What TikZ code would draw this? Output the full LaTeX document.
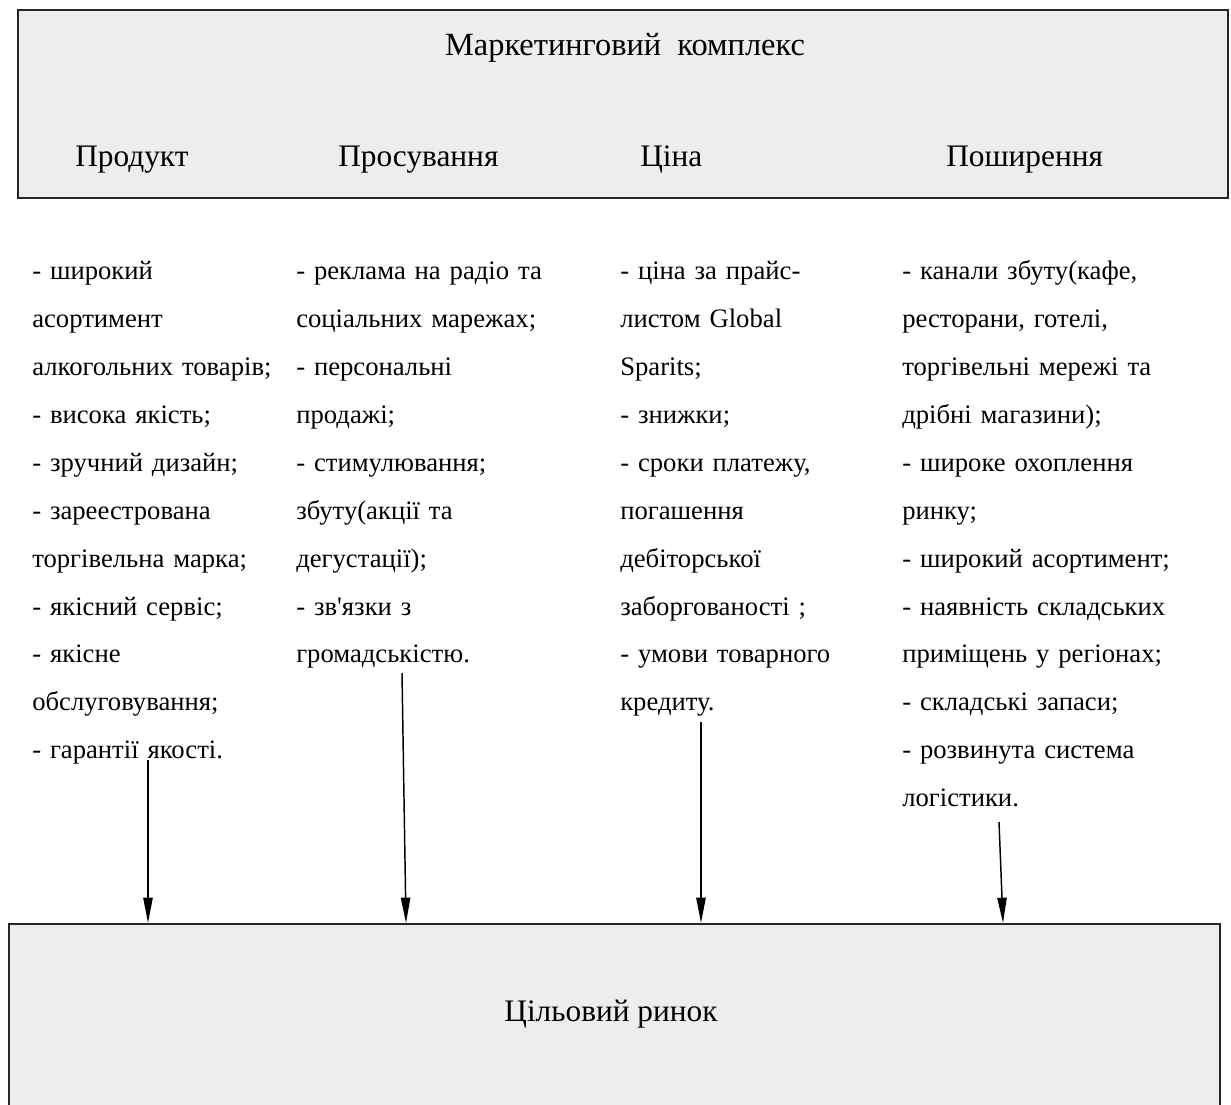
\documentclass[tikz,border=0pt]{standalone}
\usepackage{fontspec}
\setmainfont{Liberation Serif}[Ligatures=TeXOff]
\usetikzlibrary{arrows.meta}

\tikzset{
  panel/.style={draw=black!85, line width=1.6pt, fill=black!7, inner sep=0pt, anchor=north west},
  heading/.style={font=\fontsize{23.5}{28}\selectfont, inner sep=0pt, anchor=base west},
  itemlist/.style={font=\fontsize{20}{35.9}\selectfont, inner sep=0pt, anchor=base west, align=left},
  feed/.style={line width=1.1pt, -{Triangle[length=19pt, width=7pt]}}
}

\begin{document}
\begin{tikzpicture}[x=0.75pt, y=-0.75pt]
  \clip (0,0) rectangle (1231,1105);
  \fill[white] (0,0) rectangle (1231,1105);

  % marketing mix panel
  \node (mix) [panel, minimum width=907.5pt, minimum height=141pt] at (17,9) {};
  \node (title) [font=\fontsize{24.3}{28}\selectfont, inner sep=0pt, anchor=base] at (625,56)
    {Маркетинговий\ \ комплекс};
  \node (h1) [heading] at (75,167) {Продукт};
  \node (h2) [heading] at (338,167) {Просування};
  \node (h3) [heading] at (640,167) {Ціна};
  \node (h4) [heading] at (946,167) {Поширення};

  % item lists
  \node (c1) [itemlist, text width=195pt] at (32,280) {%
    - широкий\\
    асортимент\\
    алкогольних товарів;\\
    - висока якість;\\
    - зручний дизайн;\\
    - зареестрована\\
    торгівельна марка;\\
    - якісний сервіс;\\
    - якісне\\
    обслуговування;\\
    - гарантії якості.};
  \node (c2) [itemlist, text width=225pt] at (296,280) {%
    - реклама на радіо та\\
    соціальних марежах;\\
    - персональні\\
    продажі;\\
    - стимулювання;\\
    збуту(акції та\\
    дегустації);\\
    - зв'язки з\\
    громадськістю.};
  \node (c3) [itemlist, text width=205pt] at (620,280) {%
    - ціна за прайс-\\
    листом Global\\
    Sparits;\\
    - знижки;\\
    - сроки платежу,\\
    погашення\\
    дебіторської\\
    заборгованості ;\\
    - умови товарного\\
    кредиту.};
  \node (c4) [itemlist, text width=240pt] at (902,280) {%
    - канали збуту(кафе,\\
    ресторани, готелі,\\
    торгівельні мережі та\\
    дрібні магазини);\\
    - широке охоплення\\
    ринку;\\
    - широкий асортимент;\\
    - наявність складських\\
    приміщень у регіонах;\\
    - складські запаси;\\
    - розвинута система\\
    логістики.};

  % target market panel
  \node (market) [panel, minimum width=908.25pt, minimum height=180pt] at (8,923) {};
  \node (mlabel) [font=\fontsize{23.5}{28}\selectfont, inner sep=0pt] at (611,1014) {Цільовий ринок};

  % connectors
  \coordinate (s1) at (148,760);
  \coordinate (s2) at (402,673);
  \coordinate (s3) at (701,722);
  \coordinate (s4) at (999,822);
  \coordinate (e1) at (148,923);
  \coordinate (e2) at (406,923);
  \coordinate (e3) at (701,923);
  \coordinate (e4) at (1003,923);
  \draw[feed] (s1) -- (e1);
  \draw[feed] (s2) -- (e2);
  \draw[feed] (s3) -- (e3);
  \draw[feed] (s4) -- (e4);
\end{tikzpicture}
\end{document}
